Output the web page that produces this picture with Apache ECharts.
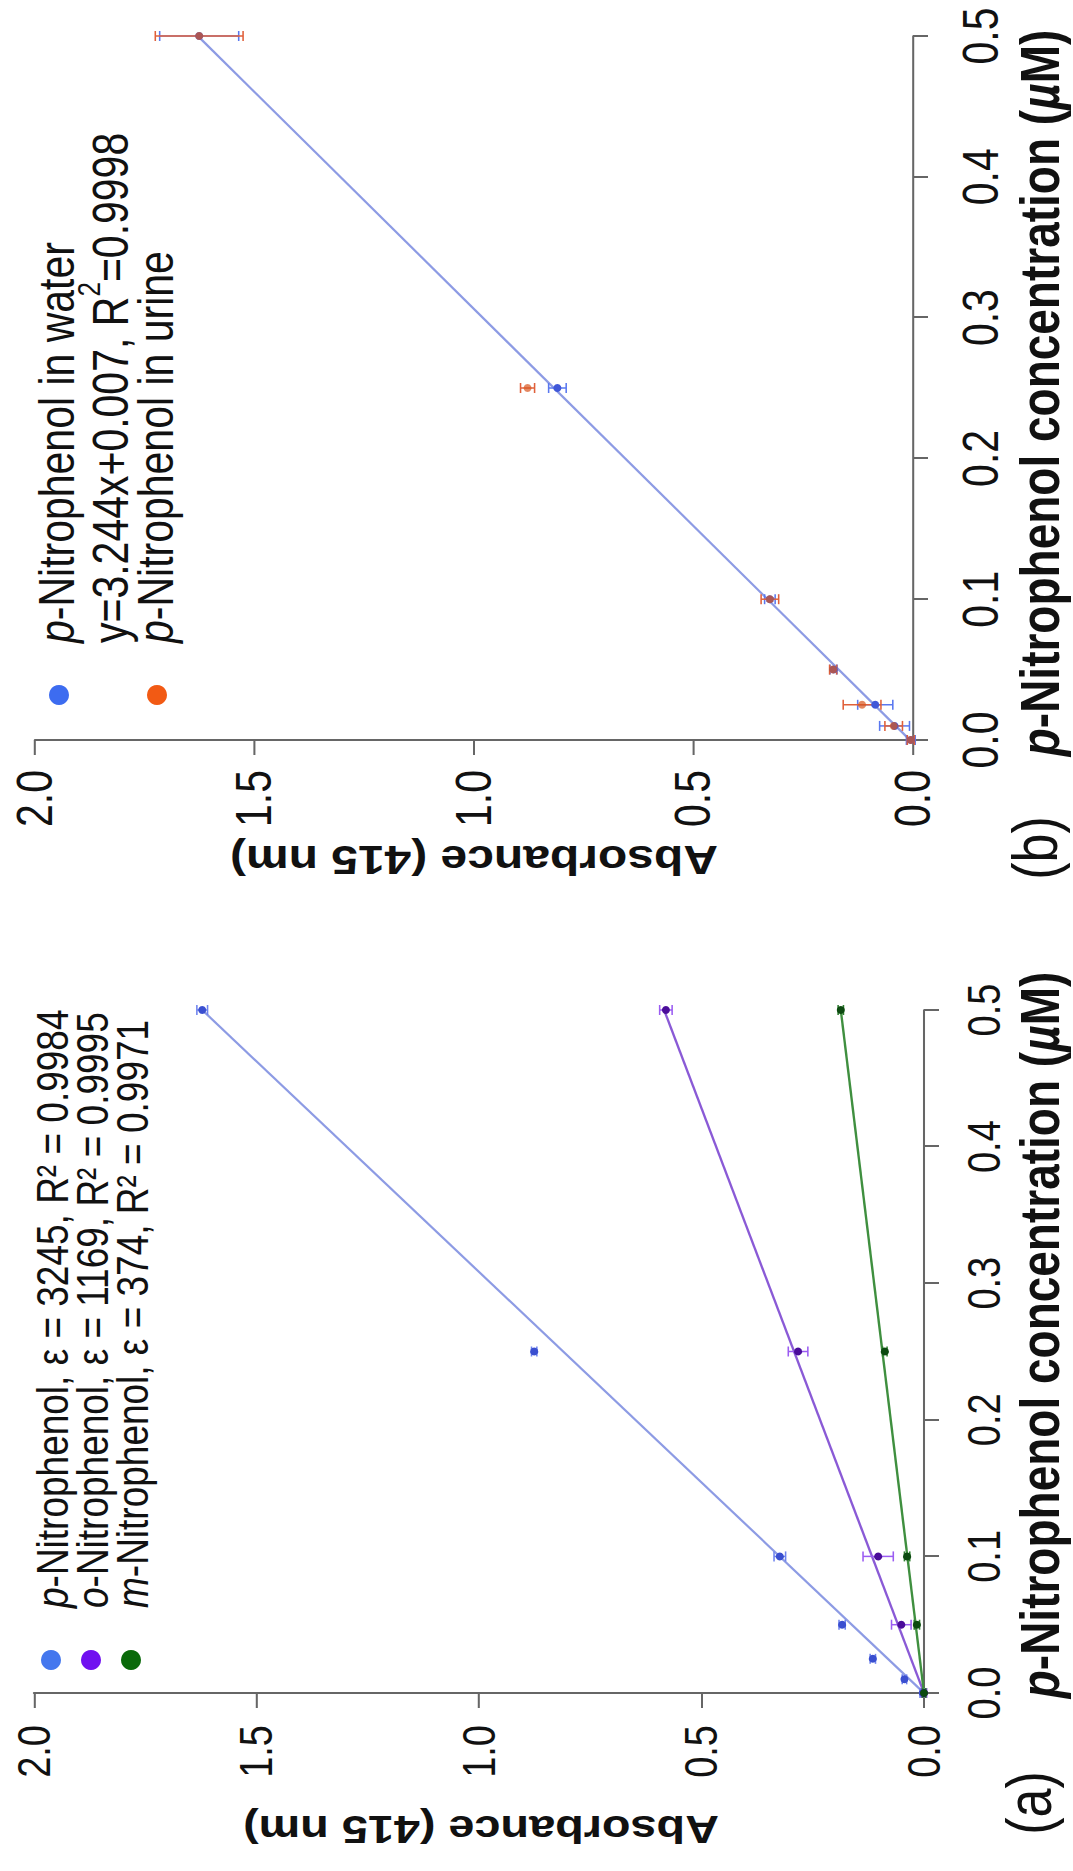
<!DOCTYPE html>
<html><head><meta charset="utf-8">
<script src="https://cdn.jsdelivr.net/npm/echarts@6/dist/echarts.min.js"></script>
<style>
html,body{margin:0;padding:0;background:#fff;overflow:hidden;width:1073px;height:1871px;}
#wrap{position:absolute;left:0;top:0;width:1073px;height:1871px;overflow:hidden;background:#fff;}
#rot{position:absolute;width:1871px;height:1073px;left:-399px;top:399px;transform:rotate(-90deg);transform-origin:50% 50%;}
#chart{position:absolute;left:0;top:0;width:1871px;height:894px;transform:scaleY(1.2);transform-origin:0 0;}
</style></head>
<body>
<div id="wrap"><div id="rot"><div id="chart"></div></div></div>
<script>
// ---------- data: panel (a) ----------
const concP = [0, 0.01, 0.025, 0.05, 0.1, 0.25, 0.5];
const absP  = [0.003, 0.044, 0.115, 0.184, 0.324, 0.876, 1.622];
const errP  = [0.006, 0.005, 0.006, 0.007, 0.013, 0.006, 0.012];
const concO = [0, 0.05, 0.1, 0.25, 0.5];
const absO  = [0.0, 0.051, 0.103, 0.283, 0.580];
const errO  = [0.006, 0.022, 0.034, 0.022, 0.014];
const concM = [0, 0.05, 0.1, 0.25, 0.5];
const absM  = [0.0, 0.016, 0.038, 0.088, 0.187];
const errM  = [0.004, 0.006, 0.006, 0.005, 0.006];
const fitLineP = [[0, 0], [0.5, 1.622]];
const fitLineO = [[0, 0], [0.5, 0.584]];
const fitLineM = [[0, 0], [0.5, 0.187]];
// ---------- data: panel (b) ----------
const concB    = [0, 0.01, 0.025, 0.05, 0.1, 0.25, 0.5];
const absWater = [0.005, 0.042, 0.086, 0.181, 0.326, 0.810, 1.626];
const errWater = [0.010, 0.034, 0.040, 0.008, 0.012, 0.020, 0.090];
const absUrine = [0.005, 0.044, 0.116, 0.182, 0.326, 0.878, 1.626];
const errUrine = [0.008, 0.020, 0.043, 0.008, 0.020, 0.016, 0.100];
const fitLineWater = [[0, 0.007], [0.5, 1.629]];
// ---------- tick labels / texts ----------
const concTickLabels = ['0.0', '0.1', '0.2', '0.3', '0.4', '0.5'];
const absTickLabels  = ['0.0', '0.5', '1.0', '1.5', '2.0'];
const legendA = ['{i|p}-Nitrophenol, ε = 3245, R² = 0.9984',
                 '{i|o}-Nitrophenol, ε = 1169, R² = 0.9995',
                 '{i|m}-Nitrophenol, ε = 374, R² = 0.9971'];
const legendB = ['{i|p}-Nitrophenol in water',
                 'y=3.244x+0.007, R{sup|2}=0.9998',
                 '{i|p}-Nitrophenol in urine'];
const xTitle = '{bi|p}-Nitrophenol concentration ({bi|µ}M)';
const yTitle = 'Absorbance (415 nm)';

// ---------- layout helpers ----------
const S = 1.2;                 // vertical stretch of the figure
const Y = v => v / S;
const FF = '"Liberation Sans", Arial, Helvetica, sans-serif';
const zip = (xs, ys, es) => xs.map((x, i) => es ? [x, ys[i], es[i]] : [x, ys[i]]);

function errRender(color) {
  return function (params, api) {
    const x = api.value(0), y = api.value(1), e = api.value(2);
    const lo = api.coord([x, y - e]), hi = api.coord([x, y + e]);
    const w = 5;
    const st = { stroke: color, lineWidth: 1.5 };
    return { type: 'group', children: [
      { type: 'line', shape: { x1: lo[0], y1: lo[1], x2: hi[0], y2: hi[1] }, style: st },
      { type: 'line', shape: { x1: lo[0] - w, y1: lo[1], x2: lo[0] + w, y2: lo[1] }, style: { stroke: color, lineWidth: 1.3 } },
      { type: 'line', shape: { x1: hi[0] - w, y1: hi[1], x2: hi[0] + w, y2: hi[1] }, style: { stroke: color, lineWidth: 1.3 } }
    ] };
  };
}
function xAx(grid, off, margin, fs) {
  return { gridIndex: grid, type: 'value', min: 0, max: 0.5, interval: 0.1, offset: Y(off),
    axisLine: { show: true, lineStyle: { color: '#666', width: 1.7 } },
    axisTick: { show: true, inside: false, length: Y(15), lineStyle: { color: '#666', width: 2 } },
    axisLabel: { show: true, margin: margin, fontSize: fs, color: '#111', fontFamily: FF,
      formatter: v => concTickLabels[Math.round(v / 0.1)] },
    splitLine: { show: false } };
}
function yAx(grid, off, margin, fs) {
  return { gridIndex: grid, type: 'value', min: 0, max: 2, interval: 0.5, offset: off,
    axisLine: { show: true, lineStyle: { color: '#666', width: 2 } },
    axisTick: { show: true, inside: false, length: 15, lineStyle: { color: '#666', width: 1.7 } },
    axisLabel: { show: true, margin: margin, fontSize: fs, color: '#111', fontFamily: FF,
      formatter: v => absTickLabels[Math.round(v / 0.5)] },
    splitLine: { show: false } };
}
function scat(name, xi, yi, data, color, op) {
  return { name, type: 'scatter', xAxisIndex: xi, yAxisIndex: yi, data, symbol: 'circle',
    symbolSize: [8, 8 / S], itemStyle: { color, opacity: op || 1 }, z: 5, clip: false, silent: true };
}
function errs(name, xi, yi, data, color) {
  return { name, type: 'custom', xAxisIndex: xi, yAxisIndex: yi, data, renderItem: errRender(color),
    encode: { x: 0, y: 1 }, z: 4, clip: false, silent: true };
}
function fitLine(name, xi, yi, data, color) {
  return { name, type: 'line', xAxisIndex: xi, yAxisIndex: yi, data, symbol: 'none', showSymbol: false,
    lineStyle: { color, width: 2 }, z: 3, clip: false, silent: true };
}
function txt(x, y, text, o) {
  o = o || {};
  const fs = o.fs || 37, fw = o.fw || 'normal';
  const st = { text, fill: '#111', fontSize: fs, fontFamily: FF, fontWeight: fw, fontStyle: 'normal',
      align: o.align || 'left', verticalAlign: 'middle',
      rich: {
        i:  { fontSize: fs, fontFamily: FF, fontWeight: fw, fontStyle: 'italic', fill: '#111' },
        bi: { fontSize: fs, fontFamily: FF, fontWeight: 'bold', fontStyle: 'italic', fill: '#111' },
        sup: { fontSize: Math.round(fs * 0.64), fontFamily: FF, fontWeight: fw, fontStyle: 'normal', fill: '#111',
               lineHeight: Math.round(fs * 0.64), verticalAlign: 'top' }
      } };
  if (o.lh) st.lineHeight = o.lh;
  return { type: 'text', x: x, y: Y(y), rotation: o.rot || 0, silent: true, style: st };
}
function dot(x, y, color) {
  return { type: 'circle', x: x, y: Y(y), scaleY: 1 / S, silent: true,
    shape: { cx: 0, cy: 0, r: 10 }, style: { fill: color } };
}

const chart = echarts.init(document.getElementById('chart'), null, { renderer: 'svg' });
chart.setOption({
  animation: false,
  backgroundColor: '#fff',
  grid: [
    { left: 178, top: Y(34), width: 683, height: Y(890), containLabel: false, outerBoundsMode: 'none' },
    { left: 1131, top: Y(35), width: 704, height: Y(878), containLabel: false, outerBoundsMode: 'none' }
  ],
  xAxis: [xAx(0, 13, 20, 38), xAx(1, 22, 18, 41)],
  yAxis: [yAx(0, 5, 27, 38), yAx(1, 5, 25, 41)],
  series: [
    fitLine('fit p', 0, 0, fitLineP, '#8d9be4'),
    fitLine('fit o', 0, 0, fitLineO, '#8a5ad6'),
    fitLine('fit m', 0, 0, fitLineM, '#3f8f3f'),
    errs('err p', 0, 0, zip(concP, absP, errP), '#6f84ee'),
    errs('err o', 0, 0, zip(concO, absO, errO), '#9b5cf2'),
    errs('err m', 0, 0, zip(concM, absM, errM), '#2f7f2f'),
    scat('p-Nitrophenol', 0, 0, zip(concP, absP), '#3a4fd0'),
    scat('o-Nitrophenol', 0, 0, zip(concO, absO), '#4a0c9a'),
    scat('m-Nitrophenol', 0, 0, zip(concM, absM), '#0c4a10'),
    fitLine('fit water', 1, 1, fitLineWater, '#8d9be4'),
    errs('err water', 1, 1, zip(concB, absWater, errWater), '#5a78f0'),
    errs('err urine', 1, 1, zip(concB, absUrine, errUrine), '#e0603a'),
    scat('p-Nitrophenol in water', 1, 1, zip(concB, absWater), '#4058d8'),
    scat('p-Nitrophenol in urine', 1, 1, zip(concB, absUrine), '#d8561e', 0.7)
  ],
  graphic: [
    dot(211, 51, '#4477ee'), dot(211, 91, '#7010f0'), dot(211, 131, '#0a6a0a'),
    txt(263, 53, legendA[0]), txt(263, 93, legendA[1]), txt(263, 133, legendA[2]),
    dot(1176, 59, '#3d6cf0'), dot(1176, 157, '#f25a14'),
    txt(1228, 57, legendB[0], { fs: 41 }), txt(1228, 111, legendB[1], { fs: 41, lh: 62 }), txt(1228, 156, legendB[2], { fs: 41 }),
    txt(536, 1040, xTitle, { fs: 46, fw: 'bold', align: 'center' }),
    txt(1478, 1040, xTitle, { fs: 46, fw: 'bold', align: 'center' }),
    txt(41, 481, yTitle, { fs: 39, fw: 'bold', align: 'center', rot: Math.PI / 2 }),
    txt(1011, 474, yTitle, { fs: 40, fw: 'bold', align: 'center', rot: Math.PI / 2 }),
    txt(68, 1029, '(a)', { fs: 52, align: 'center' }),
    txt(1023, 1035, '(b)', { fs: 52, align: 'center' })
  ]
});
</script>
</body></html>
